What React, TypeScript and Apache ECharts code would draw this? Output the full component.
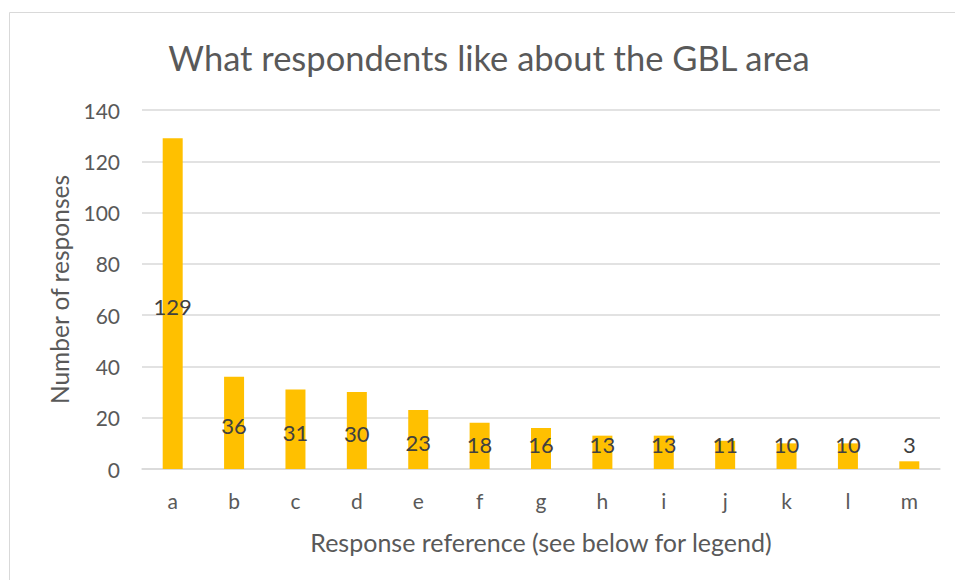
import React, { useEffect, useRef } from "react";
import * as echarts from "echarts";

const categories = ["a", "b", "c", "d", "e", "f", "g", "h", "i", "j", "k", "l", "m"];
const responses = [129, 36, 31, 30, 23, 18, 16, 13, 13, 11, 10, 10, 3];
const yTicks = [0, 20, 40, 60, 80, 100, 120, 140];

const FONT = "Lato, 'Noto Sans', sans-serif";
const TEXT = "#595959";

export default function App() {
  const ref = useRef<HTMLDivElement>(null);
  useEffect(() => {
    if (!ref.current) return;
    const chart = echarts.init(ref.current, undefined, { renderer: "svg" });
    const data = responses.map((v) =>
      v < 20
        ? { value: v, label: { position: "insideBottom", distance: 17 } }
        : { value: v }
    );
    chart.setOption({
      animation: false,
      backgroundColor: "#ffffff",
      textStyle: { fontFamily: FONT },
      title: {
        text: "What respondents like about the GBL area",
        left: 484,
        textAlign: "center",
        top: 35,
        textStyle: { fontFamily: FONT, fontSize: 34.5, fontWeight: "normal", color: TEXT },
      },
      graphic: [
        {
          type: "rect",
          shape: { x: 9.5, y: 12.5, width: 1200, height: 1000 },
          style: { fill: "none", stroke: "#D9D9D9", lineWidth: 1 },
          silent: true,
        },
      ],
      grid: { left: 142, right: 15, top: 110, bottom: 111, containLabel: false },
      xAxis: {
        type: "category",
        data: categories,
        name: "Response reference (see below for legend)",
        nameLocation: "middle",
        nameGap: 60,
        nameTextStyle: { fontFamily: FONT, fontSize: 25, color: TEXT },
        axisLine: { show: true, lineStyle: { color: "#D9D9D9", width: 1.5 } },
        axisTick: { show: false },
        axisLabel: { fontFamily: FONT, fontSize: 21, color: TEXT, margin: 21 },
      },
      yAxis: {
        type: "value",
        min: yTicks[0],
        max: yTicks[yTicks.length - 1],
        interval: 20,
        name: "Number of responses",
        nameLocation: "middle",
        nameGap: 70,
        nameTextStyle: { fontFamily: FONT, fontSize: 24.5, color: TEXT },
        axisLine: { show: false },
        axisTick: { show: false },
        splitLine: { lineStyle: { color: "#D9D9D9", width: 1.5 } },
        axisLabel: { fontFamily: FONT, fontSize: 21, color: TEXT, margin: 22 },
      },
      series: [
        {
          type: "bar",
          data,
          barWidth: 20,
          itemStyle: { color: "#FFC000" },
          label: {
            show: true,
            position: "inside",
            offset: [0, 3],
            fontFamily: FONT,
            fontSize: 22,
            color: "#404040",
          },
        },
      ],
    });
    return () => chart.dispose();
  }, []);
  return (
    <div
      ref={ref}
      style={{ position: "fixed", left: 0, top: 0, width: 955, height: 580 }}
    />
  );
}
